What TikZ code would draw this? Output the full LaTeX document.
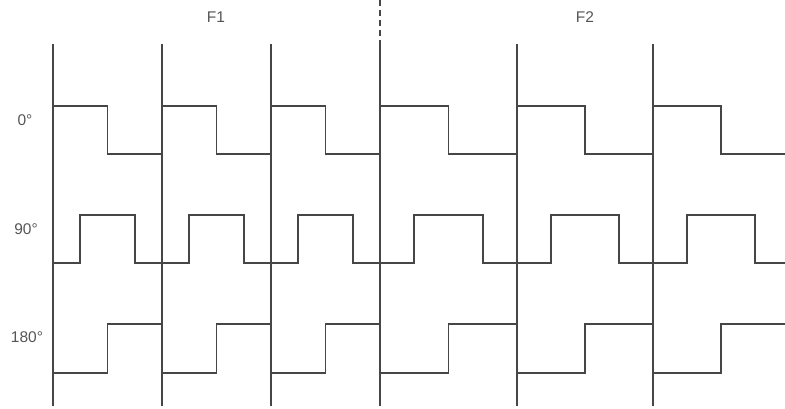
\documentclass[tikz,border=0pt]{standalone}
\usepackage{fontspec}
\setmainfont{Liberation Sans}
\definecolor{wavecol}{RGB}{70,70,70}
\definecolor{labelcol}{RGB}{85,85,85}

\begin{document}
\begin{tikzpicture}[
  x=1pt, y=-1pt,
  wave/.style={draw=wavecol, line width=1.7pt, line join=miter},
  bound/.style={draw=wavecol, line width=1.7pt},
  lbl/.style={text=labelcol, font=\fontsize{15.5}{18}\selectfont, inner sep=0pt}
]
\useasboundingbox (0,0) rectangle (785,408);

% frame boundaries
\foreach \x in {53,162,271,380,517,653}
  \draw[bound] (\x,44) -- (\x,406);
\draw[bound, dash pattern=on 6pt off 4pt] (380,0) -- (380,44);

% periods: start / length
\foreach \s/\p in {53/109, 162/109, 271/109, 380/137, 517/136, 653/136} {
  % 0 deg
  \draw[wave] (\s,106) -- ++(\p/2,0) -- ++(0,48) -- ++(\p/2,0);
  % 90 deg
  \draw[wave] (\s,263) -- ++(\p/4,0) -- ++(0,-48) -- ++(\p/2,0)
    -- ++(0,48) -- ++(\p/4,0);
  % 180 deg
  \draw[wave] (\s,373) -- ++(\p/2,0) -- ++(0,-49) -- ++(\p/2,0);
}

\node[lbl] (f1) at (216,17) {F1};
\node[lbl] (f2) at (585,17) {F2};
\node[lbl] (deg0)   at (25,120) {0°};
\node[lbl] (deg90)  at (26,229) {90°};
\node[lbl] (deg180) at (27,337) {180°};

\end{tikzpicture}
\end{document}
